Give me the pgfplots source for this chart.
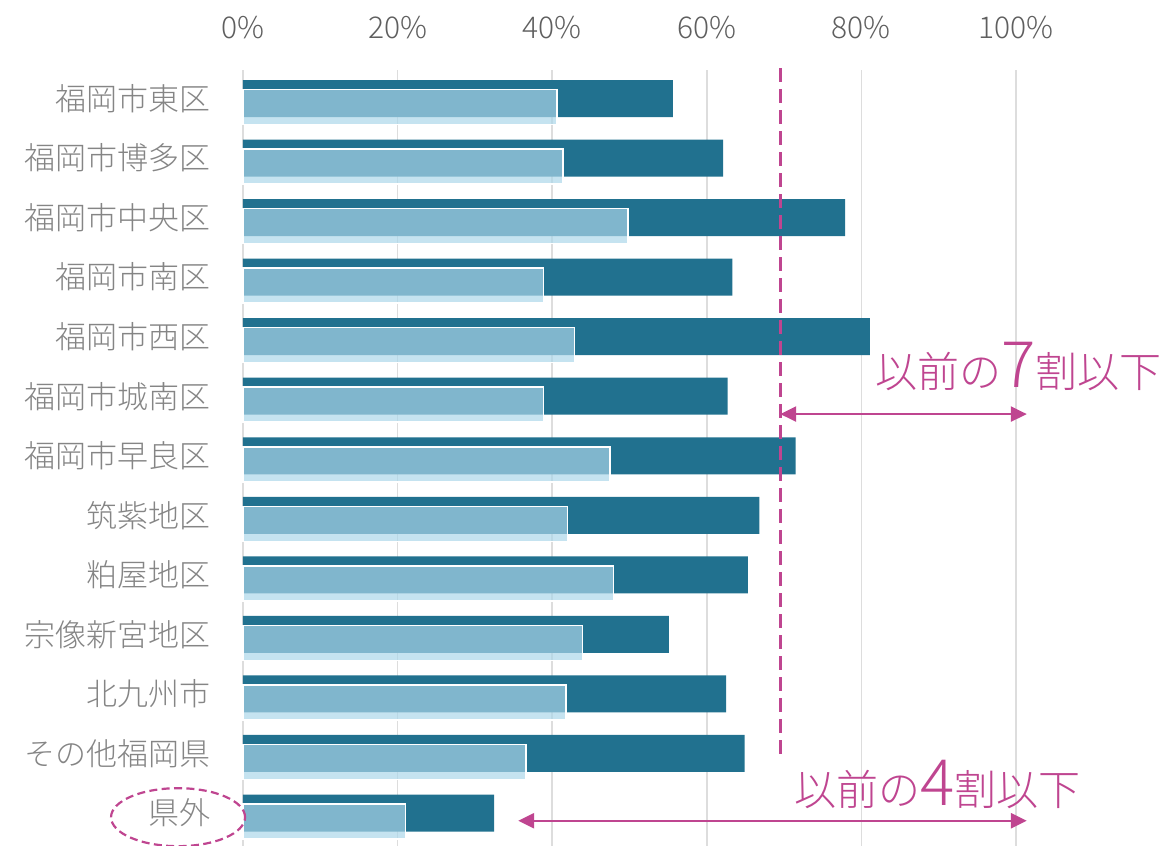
\documentclass[border=0pt]{standalone}
\usepackage{pgfplots}
\pgfplotsset{compat=1.18}
\usetikzlibrary{arrows.meta}
\usepackage{fontspec}
\setmainfont{Noto Sans CJK JP}[UprightFont={* Light}]
\definecolor{dark}{HTML}{21718F}
\definecolor{pale}{RGB}{171,214,233}
\definecolor{mag}{HTML}{BF4590}
\definecolor{gridc}{HTML}{DDDDDD}
\definecolor{labc}{HTML}{858585}
\definecolor{tickc}{HTML}{5F5F5F}
\begin{document}
\begin{tikzpicture}
\begin{axis}[
    scale only axis,
    width=386.5pt, height=388pt,
    xmin=0, xmax=100,
    ymin=-0.554, ymax=12.479,
    axis line style={draw=none},
    major tick length=0pt,
    xmajorgrids,
    grid style={gridc, line width=0.75pt},
    xtick={0,20,...,100},
    xticklabel pos=upper,
    xticklabel={\pgfmathprintnumber{\tick}\%},
    xticklabel style={font=\fontsize{15}{15}\selectfont, text=tickc, yshift=12pt},
    ytick={0,...,12},
    yticklabels={県外,その他福岡県,北九州市,宗像新宮地区,粕屋地区,筑紫地区,福岡市早良区,福岡市城南区,福岡市西区,福岡市南区,福岡市中央区,福岡市博多区,福岡市東区},
    yticklabel style={font=\fontsize{15.5}{15.5}\selectfont, text=labc, xshift=-12.5pt},
    clip=false,
    /pgf/number format/assume math mode=true,
]
% current share (dark)
\addplot[xbar, bar width=18.5pt, bar shift=0pt, fill=dark, draw=none] coordinates {
(55.6,12) (62.1,11) (77.9,10) (63.3,9) (81.1,8) (62.7,7) (71.5,6)
(66.8,5) (65.3,4) (55.1,3) (62.5,2) (64.9,1) (32.5,0)};
% light overlay
\addplot[xbar, bar width=17.5pt, bar shift=-4.25pt, fill=pale, fill opacity=0.69, draw=white, line width=0.75pt] coordinates {
(40.6,12) (41.4,11) (49.8,10) (38.9,9) (42.9,8) (38.9,7) (47.5,6)
(42.0,5) (47.9,4) (43.9,3) (41.8,2) (36.6,1) (21.0,0)};

\draw[mag, line width=1.6pt, dash pattern=on 7pt off 3.5pt] (axis cs:69.5,12.51) -- (axis cs:69.5,0.89);
\draw[mag, line width=1.2pt, {Triangle[length=8pt,width=7.5pt]}-{Triangle[length=8pt,width=7.5pt]}] (axis cs:69.5,6.70) -- (axis cs:101.4,6.70);
\draw[mag, line width=1.2pt, {Triangle[length=8pt,width=7.5pt]}-{Triangle[length=8pt,width=7.5pt]}] (axis cs:35.6,-0.13) -- (axis cs:101.4,-0.13);
\node[mag, anchor=base, font=\fontsize{21}{21}\selectfont, inner sep=0pt] at (axis cs:100.3,7.14) {以前の{\fontsize{32}{32}\selectfont 7}割以下};
\node[mag, anchor=base, font=\fontsize{21}{21}\selectfont, inner sep=0pt] at (axis cs:89.8,0.13) {以前の{\fontsize{32}{32}\selectfont 4}割以下};
\draw[mag, line width=1.1pt, dash pattern=on 4pt off 2.2pt] (axis cs:-8.4,-0.07) ellipse [x radius=33.5pt, y radius=14.5pt];

\coordinate (bl) at (axis cs:0,-0.554);
\coordinate (tr) at (axis cs:100,12.479);
\end{axis}
\pgfresetboundingbox
\path ([xshift=-121.5pt]bl) rectangle ([xshift=73.5pt,yshift=35pt]tr);
\end{tikzpicture}
\end{document}
